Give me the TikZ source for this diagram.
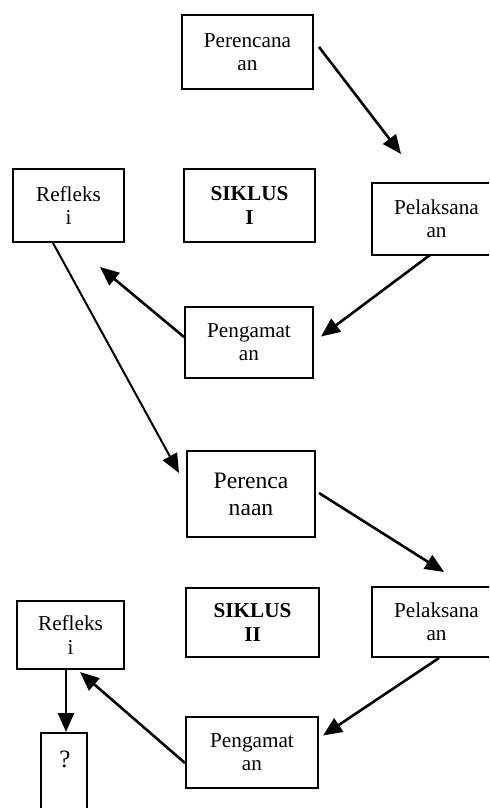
\documentclass[tikz,border=0pt]{standalone}
\usepackage{fontspec}
\setmainfont{Liberation Serif}
\usetikzlibrary{arrows.meta}

\tikzset{
  box/.style={draw,line width=1pt,align=center,inner sep=0pt,
    font=\fontsize{10.6}{11.6}\selectfont},
  arr/.style={line width=1.3pt,-{Triangle[length=9.5pt,width=8pt]}}
}

\begin{document}
\begin{tikzpicture}[x=0.5pt,y=-0.5pt]
    \clip (0,0) rectangle (489,808);
    % siklus I
    \node[box,minimum width=65.5pt,minimum height=37pt] (per1) at (247.5,52) {Perencana\\an};
    \node[box,minimum width=65.5pt,minimum height=36.5pt,font=\fontsize{10.6}{11.6}\selectfont\bfseries] (sik1) at (249.5,205.5) {SIKLUS\\I};
    \node[box,minimum width=64.5pt,minimum height=36pt] (pel1) at (436.5,219) {Pelaksana\\an};
    \node[box,minimum width=55.5pt,minimum height=36.5pt] (ref1) at (68.5,205.5) {Refleks\\i};
    \node[box,minimum width=64pt,minimum height=35.5pt] (pen1) at (249,342.5) {Pengamat\\an};
    % siklus II
    \node[box,minimum width=64pt,minimum height=43pt,font=\fontsize{11.8}{13.4}\selectfont] (per2) at (251,494) {Perenca\\naan};
    \node[box,minimum width=66.5pt,minimum height=34.5pt,font=\fontsize{10.6}{11.6}\selectfont\bfseries] (sik2) at (252.5,622.5) {SIKLUS\\II};
    \node[box,minimum width=64.5pt,minimum height=35pt] (pel2) at (436.5,622) {Pelaksana\\an};
    \node[box,minimum width=53.5pt,minimum height=34pt] (ref2) at (70.5,635) {Refleks\\i};
    \node[box,minimum width=66pt,minimum height=35.5pt] (pen2) at (252,752.5) {Pengamat\\an};
    \node[box,minimum width=23pt,minimum height=50pt,anchor=north,font=\fontsize{12.5}{14}\selectfont] (q) at (64,732) {\hspace*{1pt}?\\[6pt]\strut};
    \coordinate (t1) at (401,154);
    \coordinate (t3) at (100,267);
    \coordinate (t5) at (444,572);
    % arrows
    \draw[arr] ([shift={(5,-5)}]per1.east) -- (t1);
    \draw[arr] (430,255) -- ([shift={(7,-6)}]pen1.east);
    \draw[arr] ([shift={(0,-5.5)}]pen1.west) -- (t3);
    \draw[arr,line width=1pt] ([shift={(-15.5,0)}]ref1.south) -- ([shift={(-7,-21)}]per2.west);
    \draw[arr] ([shift={(3,-1)}]per2.east) -- (t5);
    \draw[arr] ([shift={(2.5,0)}]pel2.south) -- ([shift={(4,-17)}]pen2.east);
    \draw[arr] ([shift={(0,10.5)}]pen2.west) -- ([shift={(9.5,2)}]ref2.south);
    \draw[arr] ([shift={(-4.5,0)}]ref2.south) -- ([shift={(2,0)}]q.north);
\end{tikzpicture}
\end{document}
